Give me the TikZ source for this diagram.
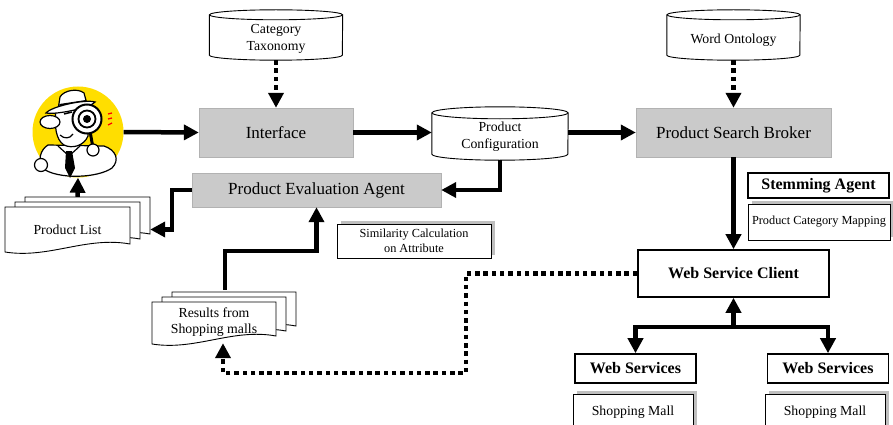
\documentclass[tikz,border=0pt]{standalone}
\usepackage{fontspec}
\setmainfont{Liberation Serif}
\usetikzlibrary{arrows.meta,shadows}

\definecolor{spyyellow}{RGB}{255,222,0}
\definecolor{boxgrey}{RGB}{202,202,202}

% outline of a database drum around a (borderless) node
\newcommand\drumoutline[3]{%
  \draw[drumline] ([yshift=-#3]#1.north west) -- ([yshift=#3]#1.south west)
    arc[start angle=180,end angle=360,x radius=#2,y radius=#3]
    -- ([yshift=-#3]#1.north east);
  \draw[drumline] ([yshift=-#3]#1.north) ellipse[x radius=#2,y radius=#3];
}
% one sheet with a wavy lower edge: x, y (top left), width, height
\newcommand\docsheet[4]{%
  \filldraw[sheet] ({#1},{#2}) -- ({#1+#3},{#2}) -- ({#1+#3},{#2+#4-8})
    .. controls ({#1+0.65*#3},{#2+#4-16}) and ({#1+0.35*#3},{#2+#4+7}) .. ({#1},{#2+#4}) -- cycle;
}
% three stacked sheets, front one at x, y
\newcommand\docstack[4]{%
  \foreach \k in {2,1,0}{\docsheet{#1+10*\k}{#2-5*\k}{#3}{#4}}
}

\tikzset{
  flow/.style={line width=4.5pt,-{Triangle[length=15pt,width=15pt]}},
  dotflow/.style={line width=4.5pt,dash pattern=on 4.5pt off 3.8pt,-{Triangle[length=15pt,width=15pt]}},
  greybox/.style={draw=black!30,fill=boxgrey,inner sep=0pt,font=\fontsize{17}{20}\selectfont},
  boldbox/.style={draw,line width=1.6pt,fill=white,inner sep=0pt,font=\fontsize{16}{19}\selectfont\bfseries},
  panel/.style={draw,line width=0.9pt,fill=white,inner sep=0pt,
    general shadow={fill=black!25,shadow xshift=3.5pt,shadow yshift=3pt}},
  small/.style={font=\fontsize{12.3}{15}\selectfont},
  mid/.style={font=\fontsize{13.8}{16.5}\selectfont},
  drum/.style={inner sep=0pt},
  drumtext/.style={align=center,mid},
  drumline/.style={line width=0.9pt},
  sheet/.style={fill=white,draw=black,line width=0.9pt},
  cartoon/.style={fill=white,draw=black,line width=1.2pt},
}

\begin{document}
\begin{tikzpicture}[x=1pt,y=-1pt]
\clip (0,0) rectangle (893,425);
\fill[white] (0,0) rectangle (893,425);

% the user (detective)
\node[circle,fill=spyyellow,minimum size=91pt,inner sep=0pt] (spy) at (78,132) {};
\begin{scope}
  % jacket, tie and hands
  \filldraw[cartoon] (48,145) .. controls (40,150) and (38,160) .. (42,168)
    .. controls (58,180) and (98,178) .. (112,168) .. controls (120,160) and (116,150) .. (104,146) -- cycle;
  \draw[line width=1.2pt] (58,146) -- (69,156) -- (80,146);
  \fill (66,151) -- (72,151) -- (75,168) -- (70,178) -- (65,168) -- cycle;
  \filldraw[cartoon] (41,165) circle (6.5);
  % head
  \filldraw[cartoon] (56,110) .. controls (54,126) and (56,140) .. (64,145)
    .. controls (72,149) and (84,146) .. (88,136) -- (88,108) -- cycle;
  \filldraw[cartoon] (50,122) ellipse[x radius=10,y radius=6.5];
  \draw[line width=1.2pt] (60,135) .. controls (64,139) and (70,139) .. (73,134);
  \draw[line width=1.5pt] (64,114) -- (72,112);
  % hat
  \filldraw[cartoon] (58,110) -- (60,97) .. controls (64,90) and (78,88) .. (84,93) -- (87,104) -- cycle;
  \fill (59.5,104) -- (86,100) -- (87,104) -- (59,108) -- cycle;
  \filldraw[cartoon] (46,113) .. controls (52,106) and (86,99) .. (95,102)
    .. controls (92,107) and (58,115) .. (46,113) -- cycle;
  % magnifying glass
  \draw[line width=3pt] (90,131) -- (93,148);
  \filldraw[fill=white,draw=black,line width=2pt] (87,119) circle (14.5);
  \draw[line width=1.8pt] (87,119) circle (8.5);
  \fill (87,119) circle (4);
  \filldraw[cartoon] (93,150) circle (6);
  \draw[red,line width=1.3pt] (108,114) -- (112,113) (108,119) -- (112,118) (108,125) -- (112,123);
\end{scope}

% knowledge stores
\node[drum,minimum width=133pt,minimum height=50pt] (tax) at (276,35) {};
\drumoutline{tax}{66.5pt}{5pt}
\node[drumtext] (taxtext) at ([yshift=-4pt]tax.center) {Category\\Taxonomy};
\node[drum,minimum width=136pt,minimum height=53pt] (pconf) at (500,133.5) {};
\drumoutline{pconf}{68pt}{6pt}
\node[drumtext] (pconftext) at ([yshift=-3pt]pconf.center) {Product\\Configuration};
\node[drum,minimum width=133pt,minimum height=50pt] (wo) at (733.5,35) {};
\drumoutline{wo}{66.5pt}{5pt}
\node[drumtext] (wotext) at ([yshift=-5pt]wo.center) {Word Ontology};

% agents
\node[greybox,minimum width=154pt,minimum height=49pt] (iface) at (276,132.5) {Interface};
\node[greybox,minimum width=249pt,minimum height=34pt] (pea) at (316.5,190) {Product Evaluation Agent};
\node[greybox,minimum width=195pt,minimum height=49pt] (psb) at (733.5,132.5) {Product Search Broker};
\node[boldbox,minimum width=141pt,minimum height=25pt] (stem) at (818.5,185.5) {Stemming Agent};
\node[panel,small,minimum width=142pt,minimum height=36pt] (pcm) at (819,222) {Product Category Mapping};
\node[panel,small,align=center,minimum width=154pt,minimum height=34pt] (sim) at (414,241) {Similarity Calculation\\on Attribute};
\node[boldbox,minimum width=191pt,minimum height=47pt] (wsc) at (733.5,273.5) {Web Service Client};
\node[boldbox,minimum width=121pt,minimum height=29pt] (ws1) at (635.5,368.5) {Web Services};
\node[boldbox,minimum width=121pt,minimum height=29pt] (ws2) at (828,368.5) {Web Services};
\node[panel,mid,minimum width=120pt,minimum height=36pt] (mall1) at (633,412) {Shopping Mall};
\node[panel,mid,minimum width=120pt,minimum height=36pt] (mall2) at (825,412) {Shopping Mall};

% document stacks
\docstack{5}{207}{125}{45}
\node[mid,minimum width=125pt,minimum height=45pt,inner sep=0pt] (plist) at (67.5,229.5) {Product List};
\docstack{152}{302}{124}{42}
\node[mid,align=center,minimum width=124pt,minimum height=42pt,inner sep=0pt] (res) at (214,322) {Results from\\Shopping malls};

% flows
\draw[flow] (spy.east) -- (iface.west);
\draw[dotflow] (tax.south) -- (tax.south |- iface.north);
\draw[flow] (iface.east) -- (iface.east -| pconf.west);
\draw[flow] (pconf.east |- psb.west) -- (psb.west);
\draw[dotflow] (wo.south) -- (psb.north);
\draw[flow] (psb.south) -- (wsc.north);
\draw[flow] (pconf.south) |- (pea.east);
\draw[flow] (pea.west) -- ++(-20,0) |- ([xshift=20pt]plist.east);
\draw[flow] ([xshift=10pt,yshift=10pt]plist.north) -- (spy.south);
\draw[flow] ([xshift=11pt,yshift=11pt]res.north) -- ++(0,-39) -| (pea.south);
\draw[dotflow] (wsc.west) -| (466,373) -| ([xshift=9pt]res.south);

\coordinate (fork) at (733.5,327);
\draw[flow] (fork) -- (wsc.south);
\draw[flow] (fork) -| (ws1.north);
\draw[flow] (fork) -| (ws2.north);
\end{tikzpicture}
\end{document}
